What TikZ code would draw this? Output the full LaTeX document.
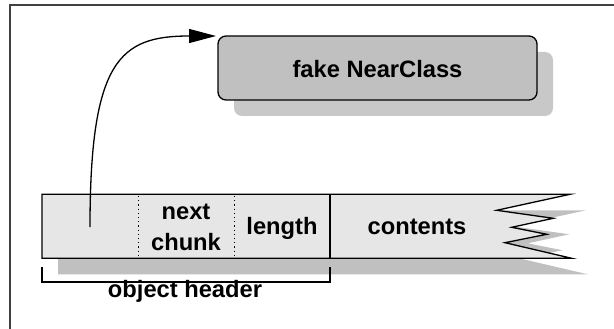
\documentclass[tikz,border=0pt]{standalone}
\usepackage{fontspec}
\setmainfont{Liberation Sans}
\usetikzlibrary{arrows.meta,shadows}
\definecolor{boxgray}{HTML}{C0C0C0}
\definecolor{boxshade}{HTML}{C8C8C8}
\definecolor{stripfill}{HTML}{E6E6E6}
\definecolor{stripshade}{HTML}{C0C0C0}
\definecolor{framecol}{HTML}{404040}
\tikzset{
  lbl/.style={font=\fontsize{23.7}{31.4}\selectfont\bfseries, inner sep=0pt, anchor=base},
  classbox/.style={draw=black, line width=1.3pt, fill=boxgray, rounded corners=8pt,
    minimum width=319pt, minimum height=64pt, inner sep=0pt,
    drop shadow={shadow xshift=16pt, shadow yshift=-16pt, fill=boxshade, opacity=1}},
  stripline/.style={draw=black, line width=1.3pt},
  dotsep/.style={line width=1pt, dash pattern=on 1.2pt off 3pt},
  ptrarrow/.style={line width=1.3pt, -{Triangle[length=27pt,width=14pt]}},
}
\begin{document}
\begin{tikzpicture}[x=1pt, y=-1pt]
\useasboundingbox (0,0) rectangle (614,329);
% frame edges
\draw[framecol, line width=1.6pt] (10,329) -- (10,5) -- (614,5);

% class object with its shadow
\node[classbox] (cls) at (377.5,68) {};
\node[lbl] (clsname) at (377.5,77.3) {fake NearClass};

% memory strip: shadow, then body
\fill[stripshade, shift={(16,16)}]
  (42,194.3) -- (570,194.3) -- (496.7,210.3) -- (553.3,218.3) -- (511.7,227.3)
  -- (546.7,234.3) -- (505,242.7) -- (571.7,258.3) -- (42,258.3) -- cycle;
\path[stripline, fill=stripfill, line join=miter]
  (42,194.3) -- (570,194.3) -- (496.7,210.3) -- (553.3,218.3) -- (511.7,227.3)
  -- (546.7,234.3) -- (505,242.7) -- (571.7,258.3) -- (42,258.3) -- cycle;

% field separators
\coordinate (hdrtop) at (330,194.3);
\coordinate (hdrbot) at (330,258.3);
\draw[stripline] (hdrtop) -- (hdrbot);
\draw[dotsep] (138,196) -- (138,257);
\draw[dotsep] (234,196) -- (234,257);

% field labels
\node[lbl] (next) at (186,219.3) {next};
\node[lbl] (chunk) at (186,250.7) {chunk};
\node[lbl] (len) at (282,234.3) {length};
\node[lbl] (cont) at (417,234.3) {contents};

% class pointer
\coordinate (ptr) at (90,227);
\coordinate (tip) at (216,36);
\draw[ptrarrow] (ptr) .. controls (90,60) and (120,36) .. (tip);

% header brace
\coordinate (brL) at (42,267);
\coordinate (brR) at (330,267);
\draw[line width=1.3pt] (brL) |- (330,282) -- (brR);
\node[lbl] (hdr) at (185,297.3) {object header};
\end{tikzpicture}
\end{document}
